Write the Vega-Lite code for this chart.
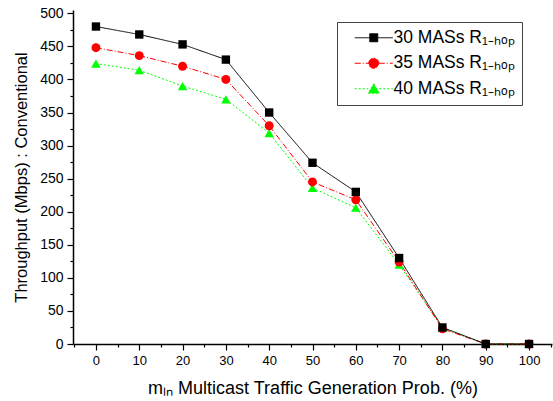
{
  "$schema": "https://vega.github.io/schema/vega-lite/v6.json",
  "width": 479,
  "height": 334,
  "autosize": {"type": "none"},
  "padding": {"left": 73, "top": 10, "right": 1, "bottom": 57},
  "background": "white",
  "config": {"view": {"stroke": null}, "font": "Liberation Sans"},
  "data": {"values": [
    {"series": "40 MASs R₁₋ₕₒₚ", "prob": 0, "thr": 424},
    {"series": "40 MASs R₁₋ₕₒₚ", "prob": 10, "thr": 414},
    {"series": "40 MASs R₁₋ₕₒₚ", "prob": 20, "thr": 390},
    {"series": "40 MASs R₁₋ₕₒₚ", "prob": 30, "thr": 370},
    {"series": "40 MASs R₁₋ₕₒₚ", "prob": 40, "thr": 319},
    {"series": "40 MASs R₁₋ₕₒₚ", "prob": 50, "thr": 236},
    {"series": "40 MASs R₁₋ₕₒₚ", "prob": 60, "thr": 206},
    {"series": "40 MASs R₁₋ₕₒₚ", "prob": 70, "thr": 120},
    {"series": "40 MASs R₁₋ₕₒₚ", "prob": 80, "thr": 25},
    {"series": "40 MASs R₁₋ₕₒₚ", "prob": 90, "thr": 0},
    {"series": "40 MASs R₁₋ₕₒₚ", "prob": 100, "thr": 0},
    {"series": "35 MASs R₁₋ₕₒₚ", "prob": 0, "thr": 448},
    {"series": "35 MASs R₁₋ₕₒₚ", "prob": 10, "thr": 436},
    {"series": "35 MASs R₁₋ₕₒₚ", "prob": 20, "thr": 420},
    {"series": "35 MASs R₁₋ₕₒₚ", "prob": 30, "thr": 400},
    {"series": "35 MASs R₁₋ₕₒₚ", "prob": 40, "thr": 330},
    {"series": "35 MASs R₁₋ₕₒₚ", "prob": 50, "thr": 245},
    {"series": "35 MASs R₁₋ₕₒₚ", "prob": 60, "thr": 218},
    {"series": "35 MASs R₁₋ₕₒₚ", "prob": 70, "thr": 124},
    {"series": "35 MASs R₁₋ₕₒₚ", "prob": 80, "thr": 23},
    {"series": "35 MASs R₁₋ₕₒₚ", "prob": 90, "thr": 0},
    {"series": "35 MASs R₁₋ₕₒₚ", "prob": 100, "thr": 0},
    {"series": "30 MASs R₁₋ₕₒₚ", "prob": 0, "thr": 480},
    {"series": "30 MASs R₁₋ₕₒₚ", "prob": 10, "thr": 468},
    {"series": "30 MASs R₁₋ₕₒₚ", "prob": 20, "thr": 453},
    {"series": "30 MASs R₁₋ₕₒₚ", "prob": 30, "thr": 430},
    {"series": "30 MASs R₁₋ₕₒₚ", "prob": 40, "thr": 350},
    {"series": "30 MASs R₁₋ₕₒₚ", "prob": 50, "thr": 274},
    {"series": "30 MASs R₁₋ₕₒₚ", "prob": 60, "thr": 230},
    {"series": "30 MASs R₁₋ₕₒₚ", "prob": 70, "thr": 130},
    {"series": "30 MASs R₁₋ₕₒₚ", "prob": 80, "thr": 25},
    {"series": "30 MASs R₁₋ₕₒₚ", "prob": 90, "thr": 0},
    {"series": "30 MASs R₁₋ₕₒₚ", "prob": 100, "thr": 0}
  ]},
  "encoding": {
    "x": {
      "field": "prob", "type": "quantitative",
      "scale": {"domain": [-5.3, 105.3], "nice": false, "zero": false},
      "axis": {
        "values": [-5, 0, 5, 10, 15, 20, 25, 30, 35, 40, 45, 50, 55, 60, 65, 70, 75, 80, 85, 90, 95, 100, 105],
        "labelExpr": "datum.value % 10 === 0 ? datum.label : ''",
        "tickSize": {"condition": {"test": "datum.value % 10 === 0", "value": 6}, "value": 3},
        "grid": false,
        "domainColor": "#000000", "tickColor": "#000000", "domainWidth": 1.5, "tickWidth": 1.2,
        "labelFontSize": 13, "labelColor": "#000000", "labelPadding": 4,
        "labelFlush": false, "labelOverlap": false,
        "title": "mₗₙ Multicast Traffic Generation Prob. (%)",
        "titleFontSize": 18, "titleFontWeight": "normal", "titleColor": "#000000", "titlePadding": 12
      }
    },
    "y": {
      "field": "thr", "type": "quantitative",
      "scale": {"domain": [0, 505], "nice": false},
      "axis": {
        "values": [0, 25, 50, 75, 100, 125, 150, 175, 200, 225, 250, 275, 300, 325, 350, 375, 400, 425, 450, 475, 500],
        "labelExpr": "datum.value % 50 === 0 ? datum.label : ''",
        "tickSize": {"condition": {"test": "datum.value % 50 === 0", "value": 6}, "value": 3},
        "grid": false,
        "domainColor": "#000000", "tickColor": "#000000", "domainWidth": 1.5, "tickWidth": 1.2,
        "labelFontSize": 14, "labelColor": "#000000", "labelPadding": 4,
        "labelFlush": false, "labelOverlap": false,
        "title": "Throughput (Mbps) : Conventional",
        "titleFontSize": 16.5, "titleFontWeight": "normal", "titleColor": "#000000", "titlePadding": 10
      }
    },
    "color": {
      "field": "series", "type": "nominal",
      "scale": {"domain": ["30 MASs R₁₋ₕₒₚ", "35 MASs R₁₋ₕₒₚ", "40 MASs R₁₋ₕₒₚ"], "range": ["#000000", "#FF0000", "#00FF00"]},
      "legend": {
        "title": null,
        "orient": "none", "legendX": 264, "legendY": 12,
        "padding": 7,
        "strokeColor": "#444444", "fillColor": "#ffffff",
        "labelFontSize": 17.5, "labelColor": "#000000",
        "symbolSize": 100, "symbolStrokeWidth": 1,
        "symbolOffset": 21, "labelOffset": 11,
        "rowPadding": 6.5,
        "encode": {
          "symbols": {"update": {
            "shape": {"signal": "datum.value === '30 MASs R₁₋ₕₒₚ' ? 'M-3.8,0H-0.8M0.8,0H3.8M-0.8,-0.8H0.8V0.8H-0.8Z' : datum.value === '35 MASs R₁₋ₕₒₚ' ? 'M-3.8,0H-1M1,0H3.8M-1,0A1,1,0,1,1,1,0A1,1,0,1,1,-1,0Z' : 'M-3.8,0H-1.1M1.1,0H3.8M0,-1L1.1,0.9H-1.1Z'"},
            "fill": {"scale": "color", "field": "value"},
            "stroke": {"scale": "color", "field": "value"},
            "size": {"value": 100},
            "opacity": {"value": 1}
          }}
        }
      }
    }
  },
  "layer": [
    {
      "mark": {"type": "line", "strokeWidth": 1},
      "encoding": {
        "strokeDash": {
          "field": "series", "type": "nominal",
          "scale": {"domain": ["30 MASs R₁₋ₕₒₚ", "35 MASs R₁₋ₕₒₚ", "40 MASs R₁₋ₕₒₚ"], "range": [[1, 0], [6, 2, 1, 2], [2, 2]]},
          "legend": null
        }
      }
    },
    {
      "transform": [{"filter": {"field": "series", "equal": "40 MASs R₁₋ₕₒₚ"}}],
      "mark": {"type": "point", "filled": true, "opacity": 1, "size": 90, "shape": "triangle-up"}
    },
    {
      "transform": [{"filter": {"field": "series", "equal": "35 MASs R₁₋ₕₒₚ"}}],
      "mark": {"type": "point", "filled": true, "opacity": 1, "size": 80, "shape": "circle"}
    },
    {
      "transform": [{"filter": {"field": "series", "equal": "30 MASs R₁₋ₕₒₚ"}}],
      "mark": {"type": "point", "filled": true, "opacity": 1, "size": 70, "shape": "square"}
    }
  ]
}
